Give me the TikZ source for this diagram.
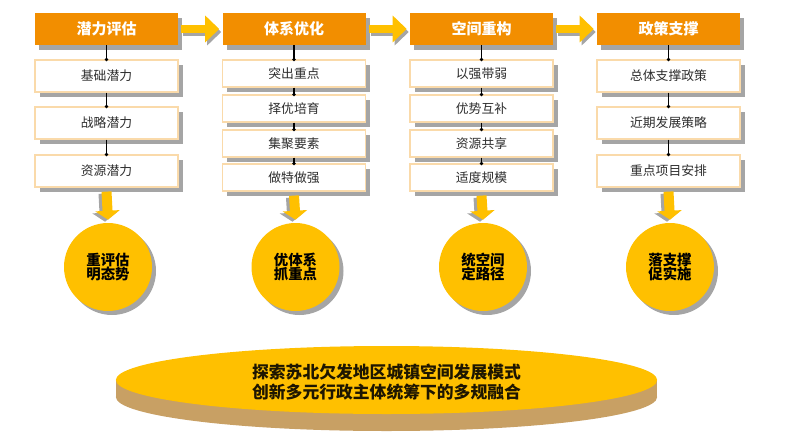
\documentclass[tikz,border=0pt]{standalone}
\usepackage{fontspec}
\setmainfont{Noto Sans CJK SC}
\usetikzlibrary{shapes.geometric,shadows,arrows.meta,calc}
\definecolor{hdr}{RGB}{242,142,0}
\definecolor{yel}{RGB}{255,192,0}
\definecolor{tan}{RGB}{200,160,100}
\definecolor{bord}{RGB}{250,218,170}
\definecolor{shd}{RGB}{165,165,165}
\definecolor{txt}{RGB}{45,45,45}
\tikzset{
  hdrbox/.style={rectangle, fill=hdr, minimum width=107.25pt, minimum height=24pt, inner sep=0pt,
    text=white, font=\bfseries\fontsize{11.25}{13}\selectfont,
    drop shadow={shadow xshift=3pt, shadow yshift=-3.75pt, fill=shd, opacity=1}},
  subbox/.style={rectangle, fill=white, draw=bord, line width=0.9pt, minimum width=107.25pt, inner sep=0pt,
    text=txt, font=\fontsize{9.6}{11}\selectfont,
    drop shadow={shadow xshift=3.5pt, shadow yshift=-3.5pt, fill=shd, opacity=1}},
  tallbox/.style={subbox, minimum height=24pt},
  shortbox/.style={subbox, minimum height=20.25pt},
  goal/.style={circle, fill=yel, minimum size=66pt, inner sep=0pt, align=center,
    font=\bfseries\fontsize{10.8}{10.8}\selectfont, text=black,
    drop shadow={shadow xshift=3pt, shadow yshift=-3pt, fill=shd, opacity=1}},
  harr/.style={line width=6pt, -{Triangle[width=19.5pt,length=10.5pt]}},
  varr/.style={line width=7.5pt, -{Triangle[width=18pt,length=6.75pt]}},
  link/.style={black, line width=0.8pt},
  dot/.style={black}
}
\begin{document}
\begin{tikzpicture}[x=0.75pt,y=-0.75pt]
\useasboundingbox (0,0) rectangle (799,446);

% headers
\node[hdrbox] (h1) at (106.5,29) {潜力评估};
\node[hdrbox] (h2) at (294,29) {体系优化};
\node[hdrbox] (h3) at (481.5,29) {空间重构};
\node[hdrbox] (h4) at (668.5,29) {政策支撑};

% column 1
\node[tallbox] (a1) at (106.5,76) {基础潜力};
\node[tallbox] (a2) at (106.5,123) {战略潜力};
\node[tallbox] (a3) at (106.5,171) {资源潜力};
% column 2
\node[shortbox] (b1) at (294,73.5) {突出重点};
\node[shortbox] (b2) at (294,108.5) {择优培育};
\node[shortbox] (b3) at (294,143.5) {集聚要素};
\node[shortbox] (b4) at (294,177.5) {做特做强};
% column 3
\node[shortbox] (c1) at (481.5,73.5) {以强带弱};
\node[shortbox] (c2) at (481.5,108.5) {优势互补};
\node[shortbox] (c3) at (481.5,143.5) {资源共享};
\node[shortbox] (c4) at (481.5,177.5) {适度规模};
% column 4
\node[tallbox] (d1) at (668.5,76) {总体支撑政策};
\node[tallbox] (d2) at (668.5,123) {近期发展策略};
\node[tallbox] (d3) at (668.5,171) {重点项目安排};

% connectors with dots
\foreach \u/\v in {h1/a1,a1/a2,a2/a3,h2/b1,b1/b2,b2/b3,b3/b4,h3/c1,c1/c2,c2/c3,c3/c4,h4/d1,d1/d2,d2/d3}{
  \draw[link] (\u.south) -- (\v.north);
  \fill[dot] (\v.north) circle (1.4pt);
}

% goal circles
\node[goal] (g1) at (108,267) {重评估\\明态势};
\node[goal] (g2) at (295.5,267) {优体系\\抓重点};
\node[goal] (g3) at (483,267) {统空间\\定路径};
\node[goal] (g4) at (670,267) {落支撑\\促实施};

% horizontal arrows (shadow + arrow)
\foreach \u/\v in {h1/h2,h2/h3,h3/h4}{
  \draw[harr,shd] ($(\u.east)+(5,3)$) -- ($(\v.west)+(-1,3)$);
  \draw[harr,yel] ($(\u.east)+(3,0)$) -- ($(\v.west)+(-3,0)$);
}
% vertical arrows
\foreach \u/\v in {a3/g1,b4/g2,c4/g3,d3/g4}{
  \draw[varr,shd] ($(\u.south)+(-3,6)$) -- ($(\v.north)+(-3,-1)$);
  \draw[varr,yel] ($(\u.south)+(0,4)$) -- ($(\v.north)+(0,-3)$);
}

% base disc
\fill[tan] (386.5,397) ellipse [x radius=203pt, y radius=25.5pt];
\fill[tan] (116,380) rectangle (657,397);
\fill[yel] (386.5,380) ellipse [x radius=203pt, y radius=25.5pt];
\node[align=center, font=\bfseries\fontsize{12.6}{15}\selectfont, text={rgb,255:red,30;green,22;blue,0}] (base) at (386.5,382)
  {探索苏北欠发地区城镇空间发展模式\\创新多元行政主体统筹下的多规融合};
\end{tikzpicture}
\end{document}
